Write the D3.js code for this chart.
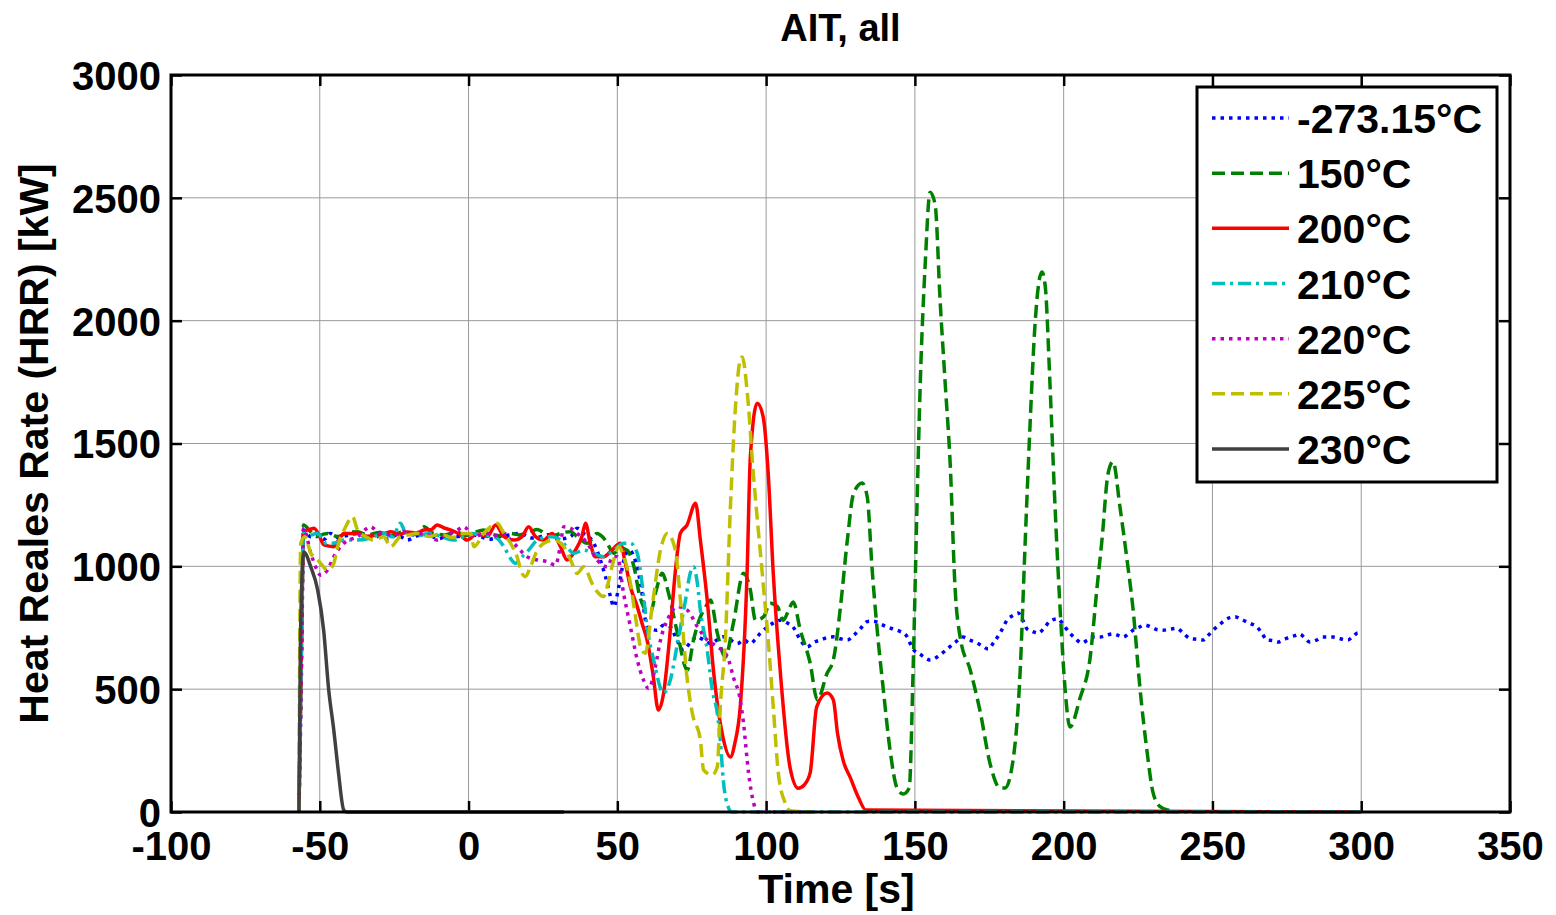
<!DOCTYPE html>
<html>
<head>
<meta charset="utf-8">
<script src="https://cdn.jsdelivr.net/npm/d3@7"></script>
<style>
  body { margin: 0; background: #fff; }
  svg { font-family: "Liberation Sans", Arial, sans-serif; font-weight: bold; }
</style>
</head>
<body>
<svg id="hrr" width="1556" height="915"></svg>
<script>
// series labels, in plotting order
const seriesNames = ['-273.15°C', '150°C', '200°C', '210°C', '220°C', '225°C', '230°C'];
const xTicks = [-100, -50, 0, 50, 100, 150, 200, 250, 300, 350];
const yTicks = [0, 500, 1000, 1500, 2000, 2500, 3000];

// [time s, HRR kW]
const hrrAmb = [[-57,0],[-56,700],[-55.5,1148],[-53,1120],[-51,1128],[-48.5,1110],[-46.5,1134],[-44,1118],[-41,1125],[-37,1134],[-34,1115],[-30,1122],[-27,1110],[-24,1128],[-20.6,1107],[-17,1125],[-14,1130],[-10,1112],[-7,1125],[-3.8,1121],[0,1130],[4,1121],[7,1110],[10.7,1121],[14,1128],[17.4,1134],[21,1115],[24.2,1121],[27.5,1130],[30.9,1112],[34.3,1121],[36.5,1155],[38.7,1134],[42.1,1094],[44.3,1026],[46,958],[47.7,877],[48.8,836],[50.5,917],[52.2,1026],[53.9,1066],[55.6,1039],[57.8,931],[60,754],[63.3,740],[65.5,760],[67.8,754],[70,700],[72.2,659],[74.5,690],[76.9,713],[79,700],[81.3,686],[83.5,700],[85.6,713],[88,700],[90.3,686],[92.5,700],[94.7,686],[96.5,705],[98,727],[100.4,753],[102.5,770],[104.8,781],[107,770],[109.1,753],[111.5,700],[113.8,672],[116,690],[118.2,700],[120.5,710],[122.6,713],[125,705],[127.3,700],[129.5,720],[131.6,745],[134,775],[136,777],[138.5,765],[140.7,753],[142.7,745],[145,735],[147,720],[149.4,663],[152,640],[155.1,619],[158,635],[160.8,663],[163.5,690],[166.2,712],[168.5,700],[170.9,688],[172.8,675],[174.6,663],[176.5,690],[178.6,728],[181.3,786],[183,800],[184.7,810],[186.3,780],[187.7,745],[189.5,735],[191.4,728],[193.5,750],[195.4,777],[198.1,786],[200,760],[202.1,728],[204,705],[206.2,688],[208,700],[209.9,712],[212.2,712],[214.5,720],[216.7,725],[218.5,718],[220,712],[221.7,725],[223.3,740],[225.3,752],[227.3,761],[229.5,752],[231.5,742],[233.4,740],[236,745],[238,748],[240.2,728],[242.4,707],[244.6,703],[246.8,700],[248.5,718],[250.2,740],[252.2,760],[254.2,781],[256,792],[257.6,795],[259.5,785],[261.5,774],[263.2,765],[264.9,754],[266.6,728],[268.3,700],[270.2,698],[272,692],[274,702],[276,712],[277.7,718],[279.4,724],[281,708],[282.7,692],[285,700],[287.1,712],[290.5,712],[293,705],[295.5,700],[297,712],[298.9,729],[300,728]];
const hrr150 = [[-57,0],[-56,800],[-55.5,1168],[-53,1140],[-51,1121],[-49,1130],[-47.4,1134],[-44,1121],[-41,1135],[-37.3,1141],[-34,1128],[-30,1138],[-26,1125],[-22,1140],[-18,1130],[-15,1161],[-12,1135],[-8,1128],[-4,1140],[-1,1125],[2,1138],[5.1,1148],[8,1130],[11,1125],[14.1,1134],[17,1128],[20.8,1141],[23.1,1150],[25.5,1135],[27.5,1121],[30,1130],[32,1138],[34.3,1141],[36.5,1121],[39.9,1094],[43.2,1134],[45,1120],[46.6,1094],[48.8,1053],[51,1075],[53.3,1066],[55.6,998],[57.5,880],[58.8,836],[61.1,809],[63,900],[65.1,972],[67.2,891],[70.2,728],[73.5,578],[75.6,700],[77.9,794],[79.5,830],[81.3,863],[83.6,728],[86.3,631],[89,769],[92.4,972],[94.7,904],[96.4,781],[99.1,794],[101.4,850],[103.8,836],[105.8,781],[107.5,820],[109.1,855],[111.5,740],[114.8,606],[117.2,456],[120.5,565],[122.6,619],[125,836],[127.3,1107],[129.4,1297],[132.3,1339],[134,1282],[135.6,993],[137.3,745],[139.4,497],[141.7,248],[144,98],[146.1,73],[148.1,98],[149.4,578],[150.7,1243],[151.8,1742],[153.5,2238],[155.1,2523],[156.8,2473],[158.5,2076],[160.2,1742],[161.9,1408],[163.5,912],[165.2,712],[168.6,578],[171.9,411],[175.3,195],[178.6,98],[180.3,98],[183,212],[185.4,578],[187,1078],[188.7,1575],[190.4,1990],[192.7,2198],[193.8,2141],[195.4,1742],[197.1,1243],[198.8,828],[200.5,497],[202.1,346],[205.5,464],[208.9,629],[211.2,912],[212.9,1111],[214.9,1376],[216.6,1426],[218.9,1243],[221.3,1026],[223.3,828],[225.7,497],[228,248],[230,81],[232.4,22],[235.7,5],[237,0]];
const hrr200 = [[-57,0],[-56,800],[-55.5,1141],[-53.5,1150],[-51.9,1155],[-50,1120],[-48.6,1087],[-45.3,1080],[-43.5,1110],[-41.9,1134],[-37.3,1134],[-34,1122],[-30.6,1128],[-28,1135],[-26.2,1141],[-23,1130],[-20.6,1140],[-17.5,1135],[-15,1148],[-12.5,1150],[-10.6,1168],[-8,1155],[-6.1,1148],[-3,1130],[-0.5,1107],[2.9,1134],[6.3,1121],[9.1,1168],[11.9,1121],[15.2,1107],[18,1121],[20.2,1161],[22.5,1121],[25.3,1107],[28.1,1134],[30.9,1080],[33.1,1026],[35.9,1066],[38.1,1121],[39.3,1175],[40.9,1094],[42.6,1039],[45.4,1039],[48.2,1066],[51,1094],[52.7,1012],[54.4,917],[56.7,836],[58.5,760],[60,700],[62,560],[63.8,415],[65.5,480],[67.5,700],[69.5,980],[71.2,1135],[73.4,1168],[76.3,1257],[77.9,1107],[80.2,863],[82.4,565],[85.2,322],[88,224],[89.5,280],[91.3,428],[93.6,972],[94.7,1446],[97,1664],[99,1609],[100.7,1379],[102.4,972],[104.8,565],[108,184],[110.8,97],[112.8,110],[114.8,159],[117,428],[120.5,484],[122.6,456],[124,320],[126,205],[128.3,140],[131,60],[133.5,8],[300,0]];
const hrr210 = [[-57,0],[-56,800],[-55.5,1134],[-53,1128],[-51,1135],[-49.7,1121],[-48,1094],[-45.3,1094],[-41.9,1107],[-37.3,1107],[-33,1115],[-28.5,1134],[-25.5,1120],[-22.9,1175],[-21,1134],[-17,1125],[-13,1134],[-9,1120],[-4.9,1107],[-1,1125],[1.5,1134],[4,1128],[8.5,1121],[11.9,1080],[14.1,1032],[15.8,1012],[18,1039],[20.2,1066],[23.1,1107],[27.5,1121],[30.9,1107],[33,1080],[35.4,1053],[38.7,1066],[42.1,1053],[45.4,1039],[48.8,1066],[52.2,1094],[54.4,1094],[56.7,1053],[58.3,931],[60,754],[62.2,619],[65.5,484],[67.8,537],[70.2,686],[72.9,862],[74.5,972],[75.6,998],[76.9,931],[77.9,822],[80.2,659],[81.9,497],[83.6,402],[84.6,293],[85.6,130],[87.3,20],[88.5,0],[300,0]];
const hrr220 = [[-57,0],[-56,800],[-55.5,1155],[-53,1053],[-51.4,998],[-49.7,964],[-47.4,985],[-45.3,1039],[-41.9,1094],[-37.3,1121],[-32.9,1161],[-30.5,1140],[-28.5,1134],[-25,1125],[-21.8,1141],[-18,1128],[-15,1134],[-12.5,1120],[-10.6,1107],[-8,1125],[-6.1,1134],[-3.5,1150],[-1.6,1161],[1.8,1121],[4,1128],[6.3,1134],[9,1125],[11.9,1134],[14,1110],[16.3,1080],[19.7,1039],[23.1,1026],[26.4,1019],[29.2,1005],[30.8,1080],[32,1161],[34.3,1155],[36.5,1134],[39.9,1094],[43.2,1026],[46.6,998],[48.5,1039],[50,1039],[52.1,890],[54.4,754],[56.7,619],[58.8,537],[60.5,503],[62.8,592],[64.5,700],[66.8,781],[70.2,836],[73.5,822],[76.9,754],[80.2,700],[83.6,673],[87,632],[89,549],[91.3,456],[92.4,362],[94.1,159],[95.8,37],[97,0],[115,0]];
const hrr225 = [[-57,0],[-56.4,1094],[-55,1120],[-53,1053],[-51,1030],[-49.7,1012],[-47.4,985],[-45.3,1012],[-44,1080],[-41.3,1161],[-39,1202],[-37.3,1148],[-34.5,1120],[-31.9,1107],[-28.5,1120],[-26.2,1080],[-22.9,1121],[-20,1128],[-17.3,1134],[-15,1125],[-12.8,1121],[-10.5,1130],[-8.3,1128],[-6,1118],[-3.8,1121],[-2.7,1134],[0.7,1134],[1.8,1080],[5.1,1134],[9.6,1175],[11.9,1134],[14.1,1094],[16.3,1039],[18,971],[19.1,958],[20.8,998],[23.1,1066],[25.3,1094],[28.6,1107],[32,1080],[34.3,1026],[36.5,971],[38.7,998],[41.5,931],[43.2,897],[45.4,877],[46.6,917],[48.2,998],[50.5,1080],[52.2,1039],[54.4,931],[56.1,795],[57.8,673],[59.4,646],[61.7,836],[64.5,1066],[66.8,1134],[69.5,1066],[71.2,862],[73.4,549],[75.2,402],[77.9,293],[79,171],[81.9,151],[83.6,184],[84.6,428],[86.3,700],[88,1241],[89.7,1649],[91.3,1840],[92,1852],[93.6,1717],[95.7,1379],[98.7,972],[100.7,700],[102.4,428],[104.1,159],[106.4,37],[108.1,5],[115,0]];
const hrr230 = [[-57,0],[-56.5,700],[-55.4,1058],[-53,997],[-50.7,903],[-48.7,740],[-47,497],[-45.3,334],[-43.7,159],[-42,10],[-41,0],[32,0]];

const seriesData = [hrrAmb, hrr150, hrr200, hrr210, hrr220, hrr225, hrr230];

// MATLAB-ish line styles
const lineColors = ['#0000ff', '#008000', '#ff0000', '#00bfbf', '#bf00bf', '#bfbf00', '#404040'];
const lineDash = ['3.5,5', '13,6', null, '13,5,3,5', '3.5,5', '13,6', null];

const svg = d3.select('#hrr');
const margin = { top: 75, right: 46, bottom: 103, left: 171 };
const width = +svg.attr('width');
const height = +svg.attr('height');
const innerWidth = width - margin.left - margin.right;
const innerHeight = height - margin.top - margin.bottom;

const x = d3.scaleLinear().domain([-100, 350]).range([0, innerWidth]);
const y = d3.scaleLinear().domain([0, 3000]).range([innerHeight, 0]);
const plain = d => String(d);

const g = svg.append('g')
    .attr('transform', `translate(${margin.left},${margin.top})`);

// grid
g.append('g').selectAll('line').data(xTicks.slice(1, -1)).enter()
    .append('line')
    .attr('x1', d => x(d)).attr('x2', d => x(d))
    .attr('y1', 0).attr('y2', innerHeight)
    .attr('stroke', '#9a9a9a').attr('stroke-width', 1);
g.append('g').selectAll('line').data(yTicks.slice(1, -1)).enter()
    .append('line')
    .attr('y1', d => y(d)).attr('y2', d => y(d))
    .attr('x1', 0).attr('x2', innerWidth)
    .attr('stroke', '#9a9a9a').attr('stroke-width', 1);

// axes: ticks pointing inward on all four sides
const tickLen = 11;
const styleAxis = sel => {
    sel.select('.domain').remove();
    sel.selectAll('.tick line').attr('stroke', '#000').attr('stroke-width', 2.5);
    sel.selectAll('.tick text').attr('fill', '#000')
        .style('font-size', '40px').style('font-weight', 'bold')
        .style('font-family', '"Liberation Sans", Arial, sans-serif');
};
g.append('g')
    .attr('transform', `translate(0,${innerHeight})`)
    .call(d3.axisBottom(x).tickValues(xTicks).tickFormat(plain).tickSize(-tickLen).tickPadding(20))
    .call(styleAxis)
    .selectAll('.tick text').attr('dy', '0.71em');
g.append('g')
    .call(d3.axisTop(x).tickValues(xTicks).tickSize(-tickLen))
    .call(styleAxis)
    .selectAll('.tick text').remove();
g.append('g')
    .call(d3.axisLeft(y).tickValues(yTicks).tickFormat(plain).tickSize(-tickLen).tickPadding(10))
    .call(styleAxis)
    .selectAll('.tick text').attr('dy', '0.36em');
g.append('g')
    .attr('transform', `translate(${innerWidth},0)`)
    .call(d3.axisRight(y).tickValues(yTicks).tickSize(-tickLen))
    .call(styleAxis)
    .selectAll('.tick text').remove();

// series
const line = d3.line()
    .x(d => x(d[0]))
    .y(d => y(d[1]))
    .curve(d3.curveMonotoneX);

g.append('g').selectAll('path')
    .data(seriesData).enter()
    .append('path')
    .attr('d', line)
    .attr('fill', 'none')
    .attr('stroke', (d, i) => lineColors[i])
    .attr('stroke-width', 3.5)
    .attr('stroke-dasharray', (d, i) => lineDash[i]);

// box
g.append('rect')
    .attr('x', 0).attr('y', 0)
    .attr('width', innerWidth).attr('height', innerHeight)
    .attr('fill', 'none').attr('stroke', '#000').attr('stroke-width', 3);

// title and labels
svg.append('text')
    .attr('x', margin.left + innerWidth / 2).attr('y', 41)
    .attr('text-anchor', 'middle')
    .style('font-size', '38px')
    .text('AIT, all');
svg.append('text')
    .attr('x', margin.left + innerWidth / 2 - 4).attr('y', 903)
    .attr('text-anchor', 'middle')
    .style('font-size', '41px')
    .text('Time [s]');
svg.append('text')
    .attr('transform', `translate(48,${margin.top + innerHeight / 2}) rotate(-90)`)
    .attr('text-anchor', 'middle')
    .style('font-size', '41px')
    .text('Heat Reales Rate (HRR) [kW]');

// legend
const lg = svg.append('g').attr('transform', 'translate(1197,87)');
lg.append('rect')
    .attr('width', 300).attr('height', 395)
    .attr('fill', '#fff').attr('stroke', '#000').attr('stroke-width', 3);
const rowY = d3.scalePoint().domain(seriesNames).range([31, 362]);
const rows = lg.selectAll('.legendRow')
    .data(seriesNames).enter()
    .append('g')
    .attr('class', 'legendRow')
    .attr('transform', d => `translate(0,${rowY(d)})`);
rows.append('line')
    .attr('x1', 15).attr('x2', 92)
    .attr('stroke', (d, i) => lineColors[i])
    .attr('stroke-width', 3.5)
    .attr('stroke-dasharray', (d, i) => lineDash[i]);
rows.append('text')
    .attr('x', 100).attr('y', 15)
    .style('font-size', '41px')
    .text(d => d);
</script>
</body>
</html>
